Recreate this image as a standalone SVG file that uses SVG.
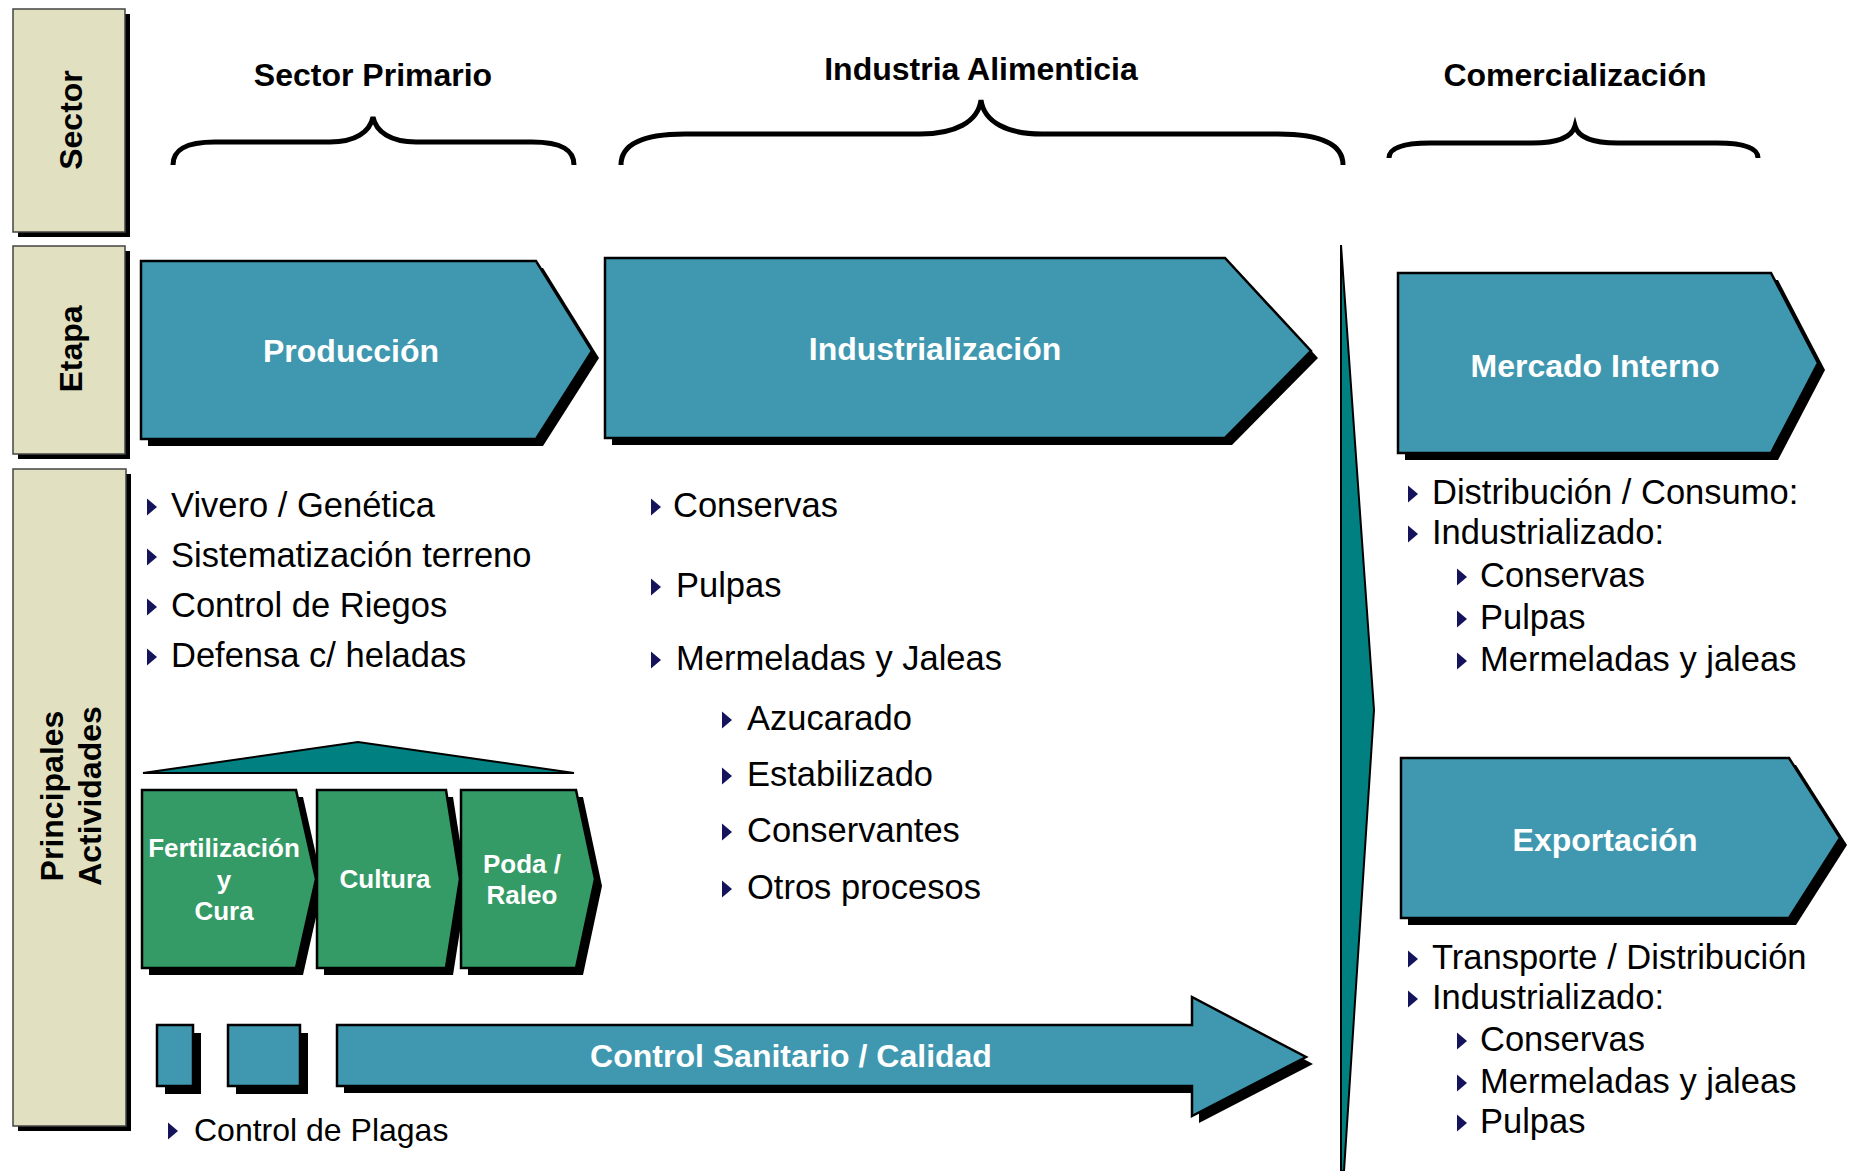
<svg xmlns="http://www.w3.org/2000/svg" xmlns:xlink="http://www.w3.org/1999/xlink" width="1855" height="1171" viewBox="0 0 1855 1171">
<style>
.lbl{fill:#E1E0C1;stroke:#444;stroke-width:1.5}
.sh{fill:#000}
.blue{fill:#3F98B0;stroke:#000;stroke-width:2.5}
.green{fill:#349A66;stroke:#000;stroke-width:2.5}
.teal{fill:#008080;stroke:#000;stroke-width:2}
.brace{fill:none;stroke:#000;stroke-width:5;stroke-linecap:butt}
.hd{font-family:"Liberation Sans",Arial,sans-serif;font-weight:bold;font-size:32px;fill:#000;text-anchor:middle}
.wt{font-family:"Liberation Sans",Arial,sans-serif;font-weight:bold;font-size:32px;fill:#fff;text-anchor:middle}
.gt{font-family:"Liberation Sans",Arial,sans-serif;font-weight:bold;font-size:26px;fill:#fff;text-anchor:middle}
.it{font-family:"Liberation Sans",Arial,sans-serif;font-size:34.5px;fill:#000}
.it2{font-family:"Liberation Sans",Arial,sans-serif;font-size:32px;fill:#000}
.bul{fill:#15135C}
</style>
<defs>
<path id="b" d="M0,-8.5 L10,0 L0,8.5 Z"/>
</defs>

<g id="label-sector">
<rect class="sh" x="18" y="14" width="112" height="223"/>
<rect class="lbl" x="13" y="9" width="112" height="223"/>
<text class="hd" transform="translate(82,120) rotate(-90)">Sector</text>
</g>
<g id="label-etapa">
<rect class="sh" x="18" y="251" width="112" height="208"/>
<rect class="lbl" x="13" y="246" width="112" height="208"/>
<text class="hd" transform="translate(82,349) rotate(-90)">Etapa</text>
</g>
<g id="label-actividades">
<rect class="sh" x="18" y="474" width="113" height="657"/>
<rect class="lbl" x="13" y="469" width="113" height="657"/>
<text class="hd" transform="translate(63,796) rotate(-90)">Principales</text>
<text class="hd" transform="translate(101,796) rotate(-90)">Actividades</text>
</g>

<g id="sector-primario">
<text class="hd" x="373" y="86">Sector Primario</text>
<path class="brace" d="M173,165 C173,150 185,142 215,142 L330,142 C355,142 370,132 373,117 C376,132 391,142 416,142 L532,142 C562,142 574,150 574,165"/>
</g>
<g id="industria-alimenticia">
<text class="hd" x="981" y="80">Industria Alimenticia</text>
<path class="brace" d="M621,165 C621,145 640,134 685,134 L920,134 C955,134 978,122 981,100 C984,122 1007,134 1042,134 L1278,134 C1323,134 1343,145 1343,165"/>
</g>
<g id="comercializacion">
<text class="hd" x="1575" y="86">Comercialización</text>
<path class="brace" d="M1389,158 C1389,149 1400,143 1430,143 L1532,143 C1557,143 1572,137 1575,126 C1578,137 1593,143 1618,143 L1717,143 C1747,143 1758,149 1758,158"/>
</g>

<g id="produccion">
<polygon class="sh" points="148,268 543,268 599,358 543,446 148,446"/>
<polygon class="blue" points="141,261 536,261 592,351 536,439 141,439"/>
<text class="wt" x="351" y="362">Producción</text>
</g>
<g id="industrializacion">
<polygon class="sh" points="612,265 1232,265 1318,358 1232,445 612,445"/>
<polygon class="blue" points="605,258 1225,258 1311,351 1225,438 605,438"/>
<text class="wt" x="935" y="360">Industrialización</text>
</g>
<g id="mercado-interno">
<polygon class="sh" points="1405,280 1778,280 1825,370 1778,460 1405,460"/>
<polygon class="blue" points="1398,273 1771,273 1818,363 1771,453 1398,453"/>
<text class="wt" x="1595" y="377">Mercado Interno</text>
</g>
<g id="exportacion">
<polygon class="sh" points="1408,765 1796,765 1847,845 1796,925 1408,925"/>
<polygon class="blue" points="1401,758 1789,758 1840,838 1789,918 1401,918"/>
<text class="wt" x="1605" y="851">Exportación</text>
</g>

<g id="divisor">
<polygon class="teal" points="1341,245 1374,710 1344,1171 1341,1171"/>
</g>

<g id="lista-produccion">
<use href="#b" class="bul" x="147" y="507"/><text class="it" x="171" y="517">Vivero / Genética</text>
<use href="#b" class="bul" x="147" y="557"/><text class="it" x="171" y="567">Sistematización terreno</text>
<use href="#b" class="bul" x="147" y="607"/><text class="it" x="171" y="617">Control de Riegos</text>
<use href="#b" class="bul" x="147" y="657"/><text class="it" x="171" y="667">Defensa c/ heladas</text>
</g>

<g id="techo">
<polygon class="teal" points="143,773 358,742 574,773"/>
</g>
<g id="fertilizacion">
<polygon class="sh" points="149,797 303,797 323,886 303,975 149,975"/>
<polygon class="green" points="142,790 296,790 316,879 296,968 142,968"/>
<text class="gt" x="224" y="857">Fertilización</text>
<text class="gt" x="224" y="889">y</text>
<text class="gt" x="224" y="920">Cura</text>
</g>
<g id="cultura">
<polygon class="sh" points="324,797 453,797 467,886 453,975 324,975"/>
<polygon class="green" points="317,790 446,790 460,879 446,968 317,968"/>
<text class="gt" x="385" y="888">Cultura</text>
</g>
<g id="poda">
<polygon class="sh" points="468,797 583,797 602,886 583,975 468,975"/>
<polygon class="green" points="461,790 576,790 595,879 576,968 461,968"/>
<text class="gt" x="522" y="873">Poda /</text>
<text class="gt" x="522" y="904">Raleo</text>
</g>

<g id="control-sanitario">
<rect class="sh" x="165" y="1033" width="36" height="61"/>
<rect class="blue" x="157" y="1025" width="36" height="61"/>
<rect class="sh" x="236" y="1033" width="72" height="61"/>
<rect class="blue" x="228" y="1025" width="72" height="61"/>
<path class="sh" d="M344,1032 L1199,1032 L1199,1004 L1313,1064 L1199,1123 L1199,1093 L344,1093 Z"/>
<path class="blue" d="M337,1025 L1192,1025 L1192,997 L1306,1057 L1192,1116 L1192,1086 L337,1086 Z"/>
<text class="wt" x="791" y="1067">Control Sanitario / Calidad</text>
</g>
<g id="plagas">
<use href="#b" class="bul" x="168" y="1131"/><text class="it2" x="194" y="1141">Control de Plagas</text>
</g>

<g id="lista-industria">
<use href="#b" class="bul" x="651" y="507"/><text class="it" x="673" y="517">Conservas</text>
<use href="#b" class="bul" x="651" y="587"/><text class="it" x="676" y="597">Pulpas</text>
<use href="#b" class="bul" x="651" y="660"/><text class="it" x="676" y="670">Mermeladas y Jaleas</text>
<use href="#b" class="bul" x="722" y="720"/><text class="it" x="747" y="730">Azucarado</text>
<use href="#b" class="bul" x="722" y="776"/><text class="it" x="747" y="786">Estabilizado</text>
<use href="#b" class="bul" x="722" y="832"/><text class="it" x="747" y="842">Conservantes</text>
<use href="#b" class="bul" x="722" y="889"/><text class="it" x="747" y="899">Otros procesos</text>
</g>

<g id="lista-mercado">
<use href="#b" class="bul" x="1408" y="494"/><text class="it" x="1432" y="504">Distribución / Consumo:</text>
<use href="#b" class="bul" x="1408" y="534"/><text class="it" x="1432" y="544">Industrializado:</text>
<use href="#b" class="bul" x="1457" y="577"/><text class="it" x="1480" y="587">Conservas</text>
<use href="#b" class="bul" x="1457" y="619"/><text class="it" x="1480" y="629">Pulpas</text>
<use href="#b" class="bul" x="1457" y="661"/><text class="it" x="1480" y="671">Mermeladas y jaleas</text>
</g>
<g id="lista-exportacion">
<use href="#b" class="bul" x="1408" y="959"/><text class="it" x="1432" y="969">Transporte / Distribución</text>
<use href="#b" class="bul" x="1408" y="999"/><text class="it" x="1432" y="1009">Industrializado:</text>
<use href="#b" class="bul" x="1457" y="1041"/><text class="it" x="1480" y="1051">Conservas</text>
<use href="#b" class="bul" x="1457" y="1083"/><text class="it" x="1480" y="1093">Mermeladas y jaleas</text>
<use href="#b" class="bul" x="1457" y="1123"/><text class="it" x="1480" y="1133">Pulpas</text>
</g>
</svg>
